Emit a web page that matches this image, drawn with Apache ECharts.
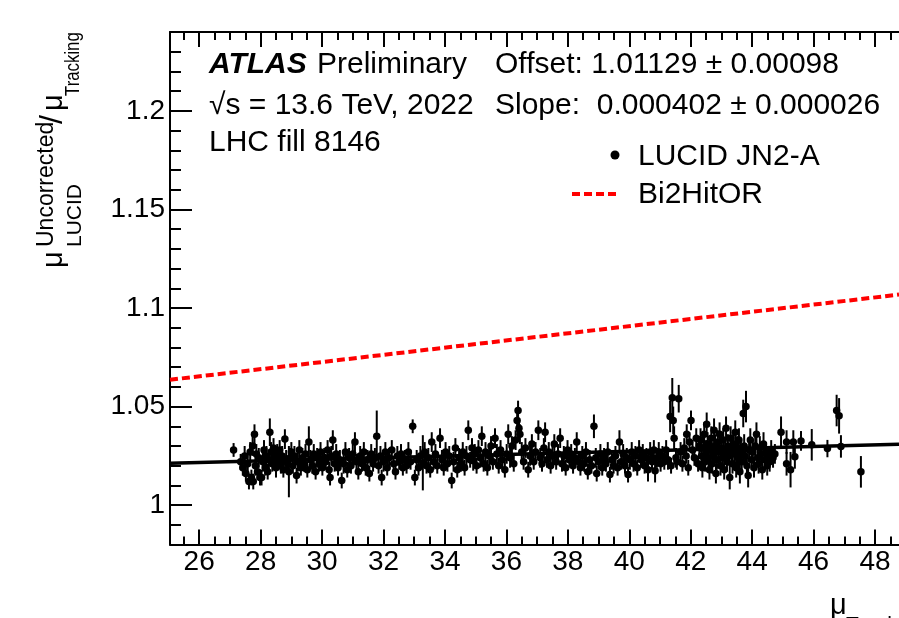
<!DOCTYPE html>
<html>
<head>
<meta charset="utf-8">
<script src="https://cdn.jsdelivr.net/npm/echarts@6/dist/echarts.min.js"></script>
<style>
  html, body { margin: 0; padding: 0; background: #fff; }
  #chart { width: 899px; height: 618px; }
</style>
</head>
<body>
<div id="chart"></div>
<script>
// LUCID JN2-A points: mu_Tracking, ratio, error
var muTracking = [
  27.12, 27.35, 27.42, 27.48, 27.52, 27.58, 27.62, 27.66, 27.70, 27.74, 27.76, 27.80, 27.83, 27.86, 27.90, 27.94, 27.98,
  28.03, 28.07, 28.11, 28.15, 28.19, 28.23, 28.27, 28.30, 28.34, 28.38, 28.42, 28.46, 28.50, 28.54, 28.58, 28.62, 28.66, 28.70, 28.74, 28.79, 28.83, 28.88, 28.92, 28.96,
  29.00, 29.05, 29.10, 29.17, 29.21, 29.26, 29.31, 29.36, 29.41, 29.46, 29.52, 29.57, 29.62, 29.68, 29.73, 29.79, 29.84, 29.90, 29.95,
  30.01, 30.07, 30.12, 30.18, 30.23, 30.26, 30.30, 30.35, 30.41, 30.46, 30.52, 30.58, 30.64, 30.70, 30.76, 30.82, 30.88, 30.94,
  31.00, 31.07, 31.12, 31.18, 31.24, 31.30, 31.36, 31.42, 31.48, 31.54, 31.60, 31.66, 31.72, 31.78, 31.84, 31.90, 31.94,
  32.00, 32.06, 32.12, 32.18, 32.27, 32.33, 32.39, 32.45, 32.51, 32.57, 32.63, 32.69, 32.75, 32.81, 32.88, 32.95,
  33.02, 33.08, 33.14, 33.20, 33.28, 33.34, 33.40, 33.46, 33.52, 33.57, 33.63, 33.69, 33.75, 33.84, 33.90, 33.96,
  34.02, 34.08, 34.14, 34.22, 34.28, 34.34, 34.40, 34.46, 34.52, 34.58, 34.64, 34.70, 34.76, 34.82, 34.88, 34.92, 34.97,
  35.03, 35.09, 35.15, 35.20, 35.26, 35.32, 35.38, 35.44, 35.50, 35.56, 35.63, 35.69, 35.75, 35.81, 35.87, 35.95,
  36.01, 36.06, 36.12, 36.18, 36.24, 36.30, 36.35, 36.38, 36.41, 36.44, 36.50, 36.56, 36.62, 36.71, 36.77, 36.83, 36.89, 36.95,
  37.04, 37.10, 37.16, 37.22, 37.26, 37.32, 37.38, 37.44, 37.50, 37.56, 37.62, 37.68, 37.75, 37.81, 37.87, 37.93, 37.99,
  38.05, 38.11, 38.17, 38.23, 38.29, 38.35,
  38.41, 38.47, 38.53, 38.59, 38.65, 38.71, 38.77, 38.85, 38.91, 38.94,
  39.00, 39.06, 39.12, 39.18, 39.24, 39.30, 39.37, 39.43, 39.49, 39.55, 39.62, 39.68, 39.74, 39.80, 39.86, 39.92, 39.96,
  40.02, 40.08, 40.14, 40.20, 40.26, 40.32, 40.38, 40.44, 40.50, 40.56, 40.61, 40.68, 40.74, 40.80, 40.84, 40.90, 40.96,
  41.02, 41.08, 41.14, 41.20, 41.26, 41.33, 41.36, 41.40, 41.43, 41.46, 41.52, 41.55, 41.61, 41.67, 41.73, 41.79, 41.85, 41.87, 41.92, 41.96,
  42.01, 42.06, 42.12, 42.18, 42.24, 42.28,
  42.32, 42.35, 42.38, 42.41, 42.44, 42.47, 42.50, 42.52, 42.55, 42.58,
  42.61, 42.64, 42.67, 42.70, 42.73, 42.76, 42.79, 42.82, 42.85, 42.88,
  42.91, 42.94, 42.97, 43.00, 43.03, 43.06, 43.09, 43.12, 43.15, 43.18,
  43.21, 43.24, 43.27, 43.30, 43.33, 43.36, 43.39, 43.42, 43.45, 43.48,
  43.51, 43.54, 43.57, 43.60, 43.63, 43.66, 43.71, 43.74, 43.77, 43.80,
  43.83, 43.87, 43.90, 43.94, 43.98, 44.02, 44.06, 44.10, 44.14, 44.18,
  44.21, 44.25, 44.29, 44.33, 44.37, 44.41, 44.45, 44.49, 44.53, 44.57,
  44.62, 44.68, 44.74,
  44.94, 45.12, 45.12, 45.25, 45.34, 45.39, 45.59, 45.94, 46.45, 46.75, 46.83, 46.89, 47.54
];
var ratio = [
  1.028, 1.022, 1.019, 1.025, 1.016, 1.021, 1.012, 1.027, 1.014, 1.030, 1.012, 1.036, 1.020, 1.026, 1.017, 1.024, 1.014,
  1.014, 1.022, 1.028, 1.019, 1.025, 1.017, 1.023, 1.037, 1.027, 1.021, 1.029, 1.024, 1.019, 1.026, 1.022, 1.028, 1.020, 1.025, 1.018, 1.0335, 1.023, 1.021, 1.017, 1.024,
  1.027, 1.020, 1.025, 1.015, 1.022, 1.028, 1.019, 1.024, 1.021, 1.026, 1.018, 1.032, 1.023, 1.020, 1.026, 1.017, 1.024, 1.021, 1.027,
  1.019, 1.024, 1.022, 1.028, 1.018, 1.014, 1.025, 1.033, 1.021, 1.026, 1.019, 1.023, 1.0125, 1.021, 1.027, 1.018, 1.024, 1.020,
  1.026, 1.032, 1.022, 1.017, 1.025, 1.021, 1.027, 1.019, 1.023, 1.016, 1.026, 1.021, 1.024, 1.035, 1.020, 1.025, 1.014,
  1.022, 1.027, 1.019, 1.024, 1.028, 1.021, 1.017, 1.025, 1.022, 1.026, 1.019, 1.023, 1.020, 1.027, 1.022, 1.040,
  1.014, 1.023, 1.019, 1.025, 1.0215, 1.027, 1.020, 1.024, 1.018, 1.032, 1.022, 1.026, 1.020, 1.034, 1.023, 1.019,
  1.027, 1.021, 1.025, 1.0125, 1.022, 1.029, 1.018, 1.024, 1.021, 1.027, 1.019, 1.025, 1.038, 1.023, 1.029, 1.0225, 1.026,
  1.020, 1.028, 1.024, 1.035, 1.021, 1.027, 1.019, 1.025, 1.030, 1.022, 1.034, 1.026, 1.020, 1.028, 1.023, 1.018,
  1.026, 1.036, 1.024, 1.030, 1.021, 1.033, 1.043, 1.048, 1.039, 1.036, 1.027, 1.022, 1.029, 1.018, 1.025, 1.031, 1.022, 1.027,
  1.038, 1.024, 1.021, 1.029, 1.037, 1.023, 1.027, 1.020, 1.025, 1.031, 1.022, 1.026, 1.034, 1.021, 1.025, 1.019, 1.028,
  1.023, 1.026, 1.020, 1.024, 1.032, 1.022,
  1.019, 1.025, 1.021, 1.027, 1.017, 1.023, 1.020, 1.040, 1.024, 1.016,
  1.022, 1.026, 1.019, 1.024, 1.021, 1.027, 1.0155, 1.023, 1.020, 1.025, 1.019, 1.032, 1.022, 1.026, 1.020, 1.024, 1.0155,
  1.023, 1.027, 1.021, 1.025, 1.019, 1.028, 1.023, 1.026, 1.020, 1.024, 1.018, 1.027, 1.022, 1.028, 1.0175, 1.024, 1.027,
  1.021, 1.025, 1.022, 1.028, 1.023, 1.045, 1.020, 1.0545, 1.043, 1.034, 1.024, 1.022, 1.054, 1.027, 1.021, 1.029, 1.025, 1.036, 1.019, 1.032,
  1.043, 1.028, 1.024, 1.034, 1.021, 1.030,
  1.033, 1.025, 1.019, 1.029, 1.036, 1.022, 1.027, 1.041, 1.031, 1.024,
  1.018, 1.028, 1.034, 1.021, 1.026, 1.038, 1.030, 1.016, 1.023, 1.032,
  1.027, 1.036, 1.020, 1.029, 1.024, 1.033, 1.018, 1.027, 1.039, 1.022,
  1.030, 1.025, 1.014, 1.034, 1.028, 1.021, 1.031, 1.026, 1.037, 1.019,
  1.029, 1.024, 1.033, 1.017, 1.027, 1.022, 1.0465, 1.030, 1.025, 1.050,
  1.020, 1.015, 1.028, 1.033, 1.023, 1.027, 1.019, 1.030, 1.036, 1.024,
  1.021, 1.029, 1.026, 1.018, 1.031, 1.023, 1.027, 1.020, 1.025, 1.022,
  1.028, 1.024, 1.026,
  1.037, 1.032, 1.021, 1.018, 1.032, 1.0245, 1.0326, 1.0306, 1.0287, 1.048, 1.0453, 1.0298, 1.0169
];
var ratioErr = [
  0.0035, 0.004, 0.004, 0.005, 0.004, 0.005, 0.004, 0.005, 0.004, 0.005, 0.004, 0.005, 0.005, 0.005, 0.004, 0.005, 0.004,
  0.004, 0.005, 0.005, 0.004, 0.005, 0.004, 0.005, 0.007, 0.005, 0.004, 0.005, 0.004, 0.005, 0.005, 0.004, 0.005, 0.004, 0.005, 0.004, 0.005, 0.005, 0.004, 0.013, 0.005,
  0.005, 0.004, 0.005, 0.004, 0.005, 0.005, 0.004, 0.005, 0.004, 0.005, 0.004, 0.008, 0.005, 0.004, 0.005, 0.004, 0.005, 0.004, 0.005,
  0.004, 0.005, 0.004, 0.005, 0.004, 0.004, 0.005, 0.005, 0.004, 0.005, 0.004, 0.005, 0.004, 0.005, 0.005, 0.004, 0.005, 0.004,
  0.005, 0.005, 0.004, 0.004, 0.005, 0.004, 0.005, 0.004, 0.005, 0.004, 0.005, 0.004, 0.005, 0.013, 0.004, 0.005, 0.004,
  0.005, 0.005, 0.004, 0.005, 0.005, 0.004, 0.004, 0.005, 0.004, 0.005, 0.004, 0.005, 0.004, 0.005, 0.004, 0.0035,
  0.004, 0.005, 0.004, 0.005, 0.014, 0.005, 0.004, 0.005, 0.004, 0.005, 0.004, 0.005, 0.004, 0.005, 0.005, 0.004,
  0.005, 0.004, 0.005, 0.004, 0.005, 0.005, 0.004, 0.005, 0.004, 0.005, 0.004, 0.005, 0.005, 0.004, 0.005, 0.005, 0.005,
  0.004, 0.005, 0.005, 0.005, 0.004, 0.005, 0.004, 0.005, 0.005, 0.004, 0.005, 0.005, 0.004, 0.005, 0.005, 0.004,
  0.005, 0.005, 0.005, 0.005, 0.004, 0.005, 0.006, 0.005, 0.005, 0.005, 0.005, 0.004, 0.005, 0.004, 0.005, 0.005, 0.004, 0.005,
  0.005, 0.005, 0.004, 0.005, 0.005, 0.004, 0.005, 0.004, 0.005, 0.005, 0.004, 0.005, 0.005, 0.004, 0.005, 0.004, 0.005,
  0.004, 0.005, 0.004, 0.005, 0.005, 0.004,
  0.004, 0.005, 0.004, 0.005, 0.004, 0.005, 0.004, 0.006, 0.005, 0.004,
  0.004, 0.005, 0.004, 0.005, 0.004, 0.005, 0.004, 0.005, 0.004, 0.005, 0.004, 0.006, 0.004, 0.005, 0.004, 0.005, 0.004,
  0.005, 0.005, 0.004, 0.005, 0.004, 0.005, 0.004, 0.005, 0.004, 0.005, 0.006, 0.005, 0.004, 0.005, 0.006, 0.005, 0.005,
  0.004, 0.005, 0.004, 0.005, 0.005, 0.008, 0.004, 0.010, 0.007, 0.006, 0.005, 0.004, 0.007, 0.005, 0.004, 0.005, 0.004, 0.005, 0.004, 0.005,
  0.005, 0.005, 0.004, 0.005, 0.004, 0.005,
  0.006, 0.005, 0.005, 0.006, 0.006, 0.005, 0.006, 0.006, 0.006, 0.005,
  0.005, 0.006, 0.006, 0.005, 0.006, 0.006, 0.006, 0.005, 0.005, 0.006,
  0.006, 0.006, 0.005, 0.006, 0.005, 0.006, 0.005, 0.006, 0.006, 0.005,
  0.006, 0.005, 0.006, 0.006, 0.006, 0.005, 0.006, 0.006, 0.006, 0.005,
  0.006, 0.005, 0.006, 0.006, 0.006, 0.005, 0.007, 0.006, 0.005, 0.008,
  0.005, 0.006, 0.006, 0.006, 0.005, 0.006, 0.005, 0.006, 0.006, 0.005,
  0.005, 0.006, 0.005, 0.005, 0.006, 0.005, 0.005, 0.005, 0.005, 0.005,
  0.005, 0.005, 0.005,
  0.008, 0.006, 0.006, 0.009, 0.006, 0.006, 0.005, 0.008, 0.0044, 0.008, 0.009, 0.0057, 0.008
];

// linear fit through the LUCID points, end values
var fitX = [25.05, 48.78];
var fitY = [1.0213, 1.0309];
// Bi2HitOR reference line, end values
var refX = [25.05, 48.78];
var refY = [1.0636, 1.1068];

var xMin = 25.05, xMax = 48.78;
var yMin = 0.98, yMax = 1.24;
var xMajor = [26, 28, 30, 32, 34, 36, 38, 40, 42, 44, 46, 48];
var yMajor = [1, 1.05, 1.1, 1.15, 1.2];

var xMinor = [];
for (var v = 51; v <= 97; v++) xMinor.push(v / 2);
var yMinor = [];
for (var k = 98; k <= 124; k++) yMinor.push(k / 100);

var FONT = "'Liberation Sans', Arial, Helvetica, sans-serif";

var chart = echarts.init(document.getElementById('chart'), null, { renderer: 'canvas' });

function axisDef(dim, pos, ticks, len, withLabel, withLine) {
  var a = {
    type: 'value',
    position: pos,
    min: dim === 'x' ? xMin : yMin,
    max: dim === 'x' ? xMax : yMax,
    axisLine: { show: withLine, onZero: false, lineStyle: { color: '#000', width: 2 } },
    axisTick: { show: true, inside: true, length: len, customValues: ticks, lineStyle: { color: '#000', width: 2 } },
    axisLabel: { show: false },
    splitLine: { show: false }
  };
  if (withLabel) {
    a.axisLabel = {
      show: true, customValues: ticks, color: '#000', fontSize: 28, fontFamily: FONT,
      margin: dim === 'x' ? 4 : 5
    };
  }
  return a;
}

var errData = muTracking.map(function (x, i) {
  return [x, ratio[i] - ratioErr[i], ratio[i] + ratioErr[i]];
});
var ptData = muTracking.map(function (x, i) { return [x, ratio[i]]; });

function txt(text, x, y, size, extra) {
  extra = extra || {};
  var el = {
    type: 'text', x: x, y: y, z: 100,
    style: {
      text: text, font: (extra.fontStyle ? extra.fontStyle + ' ' : '') + size + 'px ' + FONT,
      fill: '#000', textAlign: 'left', align: 'left', textVerticalAlign: 'middle', verticalAlign: 'middle'
    }
  };
  if (extra.scaleX) el.scaleX = extra.scaleX;
  if (extra.rotation) el.rotation = extra.rotation;
  return el;
}
var ROT = Math.PI / 2;

var option = {
  animation: false,
  backgroundColor: '#fff',
  grid: { left: 170, right: 0, top: 32, bottom: 73.4, containLabel: false },
  xAxis: [
    axisDef('x', 'bottom', xMajor, 15, true, true),
    axisDef('x', 'bottom', xMinor, 8, false, false),
    axisDef('x', 'top', xMajor, 15, false, true),
    axisDef('x', 'top', xMinor, 8, false, false)
  ],
  yAxis: [
    axisDef('y', 'left', yMajor, 22, true, true),
    axisDef('y', 'left', yMinor, 11, false, false)
  ],
  series: [
    {
      type: 'line', name: 'Bi2HitOR',
      data: refX.map(function (x, i) { return [x, refY[i]]; }),
      symbol: 'none', z: 2,
      lineStyle: { color: '#ff0000', width: 4, type: [8, 4] }
    },
    {
      type: 'custom', name: 'err',
      data: errData,
      encode: { x: 0, y: [1, 2] },
      z: 3,
      renderItem: function (params, api) {
        var lo = api.coord([api.value(0), api.value(1)]);
        var hi = api.coord([api.value(0), api.value(2)]);
        return {
          type: 'line',
          shape: { x1: lo[0], y1: lo[1], x2: hi[0], y2: hi[1] },
          style: { stroke: '#000', lineWidth: 2 }
        };
      }
    },
    {
      type: 'scatter', name: 'LUCID JN2-A',
      data: ptData, symbol: 'circle', symbolSize: 7.5, z: 4,
      itemStyle: { color: '#000', opacity: 1 }
    },
    {
      type: 'line', name: 'fit',
      data: fitX.map(function (x, i) { return [x, fitY[i]]; }),
      symbol: 'none', z: 5,
      lineStyle: { color: '#000', width: 3.5 }
    }
  ],
  graphic: [
    txt('ATLAS', 209, 64.6, 30, { fontStyle: 'italic bold' }),
    txt('Preliminary', 317, 64.6, 30),
    txt('Offset: 1.01129 \u00b1 0.00098', 495, 64.6, 30),
    txt('\u221as = 13.6 TeV, 2022', 209, 105.6, 30),
    txt('Slope:  0.000402 \u00b1 0.000026', 495, 105.6, 30),
    txt('LHC fill 8146', 209, 142.6, 30),
    txt('LUCID JN2-A', 638, 156.6, 30),
    txt('Bi2HitOR', 638, 194.6, 30),
    { type: 'circle', z: 100, shape: { cx: 615, cy: 155, r: 4.5 }, style: { fill: '#000' } },
    { type: 'line', z: 100, shape: { x1: 572, y1: 194, x2: 618, y2: 194 },
      style: { stroke: '#ff0000', lineWidth: 4, lineDash: [8, 4] } },
    // y-axis title, rotated
    txt('\u03bc', 54, 268, 29, { rotation: ROT }),
    txt('Uncorrected', 47, 247, 23, { rotation: ROT }),
    txt('LUCID', 75, 247, 21, { rotation: ROT }),
    txt('/', 53, 124, 32, { rotation: ROT }),
    txt('\u03bc', 54, 111, 29, { rotation: ROT }),
    txt('Tracking', 73, 96, 21, { rotation: ROT, scaleX: 0.8 }),
    // x-axis title (cut by the picture edge)
    txt('\u03bc', 830, 606, 29),
    txt('Tracking', 846, 625, 21)
  ]
};

chart.setOption(option);
</script>
</body>
</html>
